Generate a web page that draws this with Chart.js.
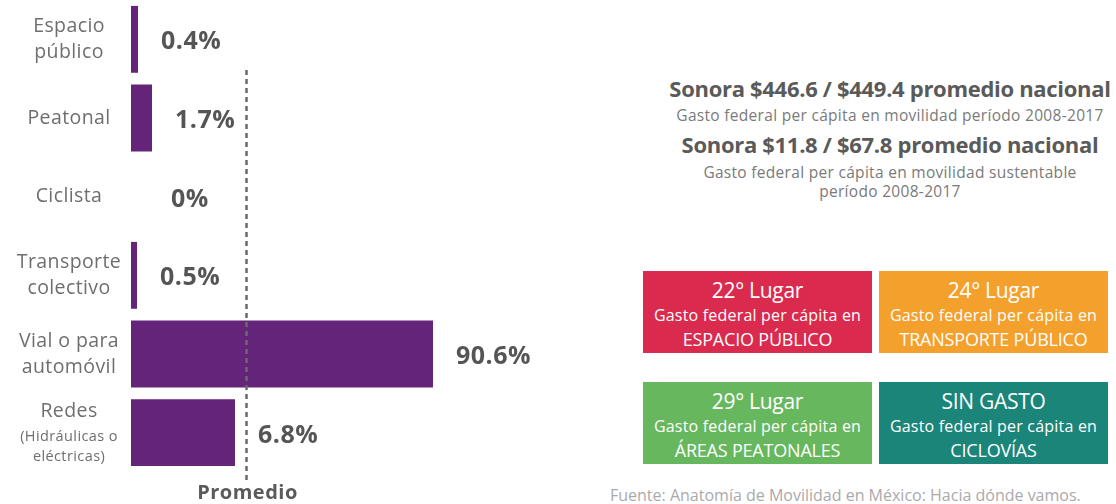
<!DOCTYPE html>
<html lang="es">
<head>
<meta charset="utf-8">
<title>Sonora - gasto federal en movilidad</title>
<script src="https://cdn.jsdelivr.net/npm/chart.js@4.4.1/dist/chart.umd.min.js"></script>
<style>
  html, body { margin: 0; padding: 0; background: #fff; }
  body { width: 1116px; height: 504px; overflow: hidden; position: relative; font-family: "Open Sans", sans-serif; }
  #grafica { position: absolute; left: 0; top: 0; }
  .cabecera { position: absolute; left: 640px; width: 500px; text-align: center; color: #5a5a5a; }
  .titulo { font-weight: 700; font-size: 22px; letter-spacing: -0.3px; line-height: 28px; }
  .sub { font-size: 15.5px; color: #7a7a7a; letter-spacing: 0.3px; line-height: 19px; }
  .caja { position: absolute; width: 229px; height: 82px; color: #fff; text-align: center; box-sizing: border-box; padding-top: 6px; white-space: nowrap; }
  .caja .l1 { font-size: 21px; line-height: 26px; letter-spacing: -0.3px; }
  .caja .l2 { font-size: 16px; line-height: 24px; letter-spacing: 0.2px; }
  .caja .l3 { font-size: 18px; line-height: 24px; letter-spacing: -0.2px; }
  .fuente { position: absolute; left: 610px; top: 484px; font-size: 16px; color: #aaa; white-space: nowrap; }
</style>
</head>
<body>
<canvas id="grafica" width="600" height="504"></canvas>

<div class="cabecera" style="top:74px">
  <div class="titulo">Sonora $446.6 / $449.4 promedio nacional</div>
  <div class="sub" style="margin-top:4px">Gasto federal per cápita en movilidad período 2008-2017</div>
</div>
<div class="cabecera" style="top:130px">
  <div class="titulo">Sonora $11.8 / $67.8 promedio nacional</div>
  <div class="sub" style="margin-top:5px">Gasto federal per cápita en movilidad sustentable<br>período 2008-2017</div>
</div>

<div class="caja" style="left:643px;top:271px;background:#da2a4e">
  <div class="l1">22° Lugar</div><div class="l2">Gasto federal per cápita en</div><div class="l3">ESPACIO PÚBLICO</div>
</div>
<div class="caja" style="left:879px;top:271px;background:#f4a02c">
  <div class="l1">24° Lugar</div><div class="l2">Gasto federal per cápita en</div><div class="l3">TRANSPORTE PÚBLICO</div>
</div>
<div class="caja" style="left:643px;top:382px;background:#67b75e">
  <div class="l1">29° Lugar</div><div class="l2">Gasto federal per cápita en</div><div class="l3">ÁREAS PEATONALES</div>
</div>
<div class="caja" style="left:879px;top:382px;background:#1b857a">
  <div class="l1">SIN GASTO</div><div class="l2">Gasto federal per cápita en</div><div class="l3">CICLOVÍAS</div>
</div>

<div class="fuente">Fuente: Anatomía de Movilidad en México: Hacia dónde vamos.</div>

<script>
// ===== Data =====
const categorias = [
    ["Espacio", "público"],
    ["Peatonal"],
    ["Ciclista"],
    ["Transporte", "colectivo"],
    ["Vial o para", "automóvil"],
    ["Redes", "(Hidráulicas o", "eléctricas)"]
];
const porcentaje = [0.4, 1.7, 0, 0.5, 90.6, 6.8];
// the infographic does not draw bars to scale: lengths
const largoBarra = [2.1, 6.3, 0, 1.8, 90.6, 31.2];
const promedio = 34.5;

const morado = "#632479";

// ===== Plugin: category names, value labels, dashed average line =====
const etiquetas = {
    id: "etiquetas",
    afterDatasetsDraw(chart) {
        const ctx = chart.ctx;
        const xs = chart.scales.x;
        const ys = chart.scales.y;
        ctx.save();

        // dashed "Promedio" line
        const xp = Math.round(xs.getPixelForValue(promedio)) + 0.5;
        ctx.strokeStyle = "#6a6a6a";
        ctx.lineWidth = 2.5;
        ctx.setLineDash([5, 4]);
        ctx.beginPath();
        ctx.moveTo(xp, 70);
        ctx.lineTo(xp, 481);
        ctx.stroke();
        ctx.setLineDash([]);

        ctx.fillStyle = "#5a5a5a";
        ctx.font = "bold 20px 'Open Sans'";
        ctx.letterSpacing = "0.5px";
        ctx.textAlign = "center";
        ctx.textBaseline = "alphabetic";
        ctx.fillText("Promedio", xp + 1, 499);

        // category names on the left
        ctx.fillStyle = "#6e6e6e";
        ctx.letterSpacing = "0.4px";
        categorias.forEach((lineas, i) => {
            const yc = ys.getPixelForValue(i);
            let offs;
            if (lineas.length === 1) offs = [0];
            else if (lineas.length === 2) offs = [-13, 13];
            else offs = [-21, 4, 24];
            lineas.forEach((t, j) => {
                const chico = lineas.length === 3 && j > 0;
                ctx.font = (chico ? "14.5px" : "19.5px") + " 'Open Sans'";
                ctx.textBaseline = "middle";
                ctx.fillText(t, 69, yc + offs[j]);
            });
        });

        // value labels
        ctx.fillStyle = "#555";
        ctx.font = "bold 25px 'Open Sans'";
        ctx.letterSpacing = "0.5px";
        ctx.textAlign = "left";
        ctx.textBaseline = "middle";
        porcentaje.forEach((v, i) => {
            const fin = xs.getPixelForValue(largoBarra[i]);
            const x = largoBarra[i] > 0 ? fin + 23 : xs.left + 40;
            ctx.fillText(v + "%", x, ys.getPixelForValue(i) + 3);
        });
        ctx.restore();
    }
};

// ===== Chart =====
const ctx = document.getElementById("grafica").getContext("2d");
new Chart(ctx, {
    type: "bar",
    data: {
        labels: categorias,
        datasets: [{
            label: "Gasto",
            data: largoBarra,
            backgroundColor: morado,
            borderWidth: 0,
            barPercentage: 0.85,
            categoryPercentage: 1
        }]
    },
    options: {
        indexAxis: "y",
        responsive: false,
        animation: false,
        devicePixelRatio: 1,
        layout: { padding: { left: 131, right: 0, top: 0, bottom: 32 } },
        plugins: {
            legend: { display: false },
            tooltip: { enabled: false }
        },
        scales: {
            x: { display: false, min: 0, max: 140.7 },
            y: { display: false, offset: true }
        }
    },
    plugins: [etiquetas]
});
</script>
</body>
</html>
